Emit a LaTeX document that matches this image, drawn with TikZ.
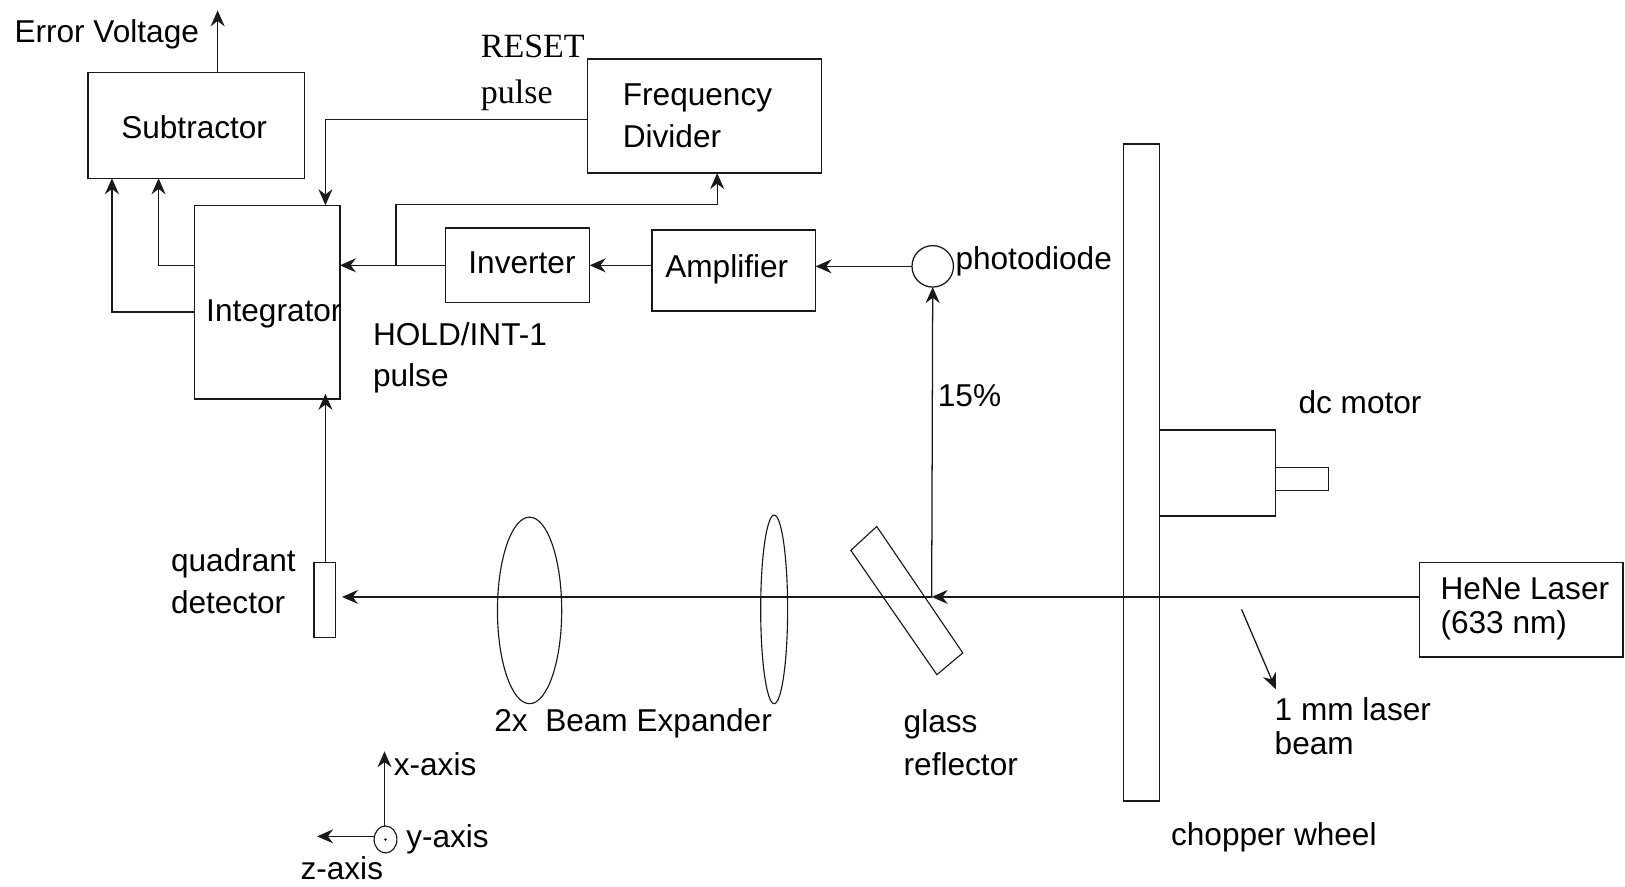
\documentclass[tikz,border=0pt]{standalone}
\usepackage{fontspec}
\setmainfont{Liberation Sans}
\newfontfamily\serifin{Liberation Serif}
\usetikzlibrary{arrows.meta,shapes.geometric}
\def\U{0.7773pt}
\newcommand{\bxnode}[5]{\node[boxs,minimum width={(#4-#2)*\U},minimum height={(#5-#3)*\U}] (#1) at ({(#2+#4)/2},{(#3+#5)/2}) {};}
\tikzset{
  boxs/.style={draw=black!90,line width=0.95pt,rectangle,inner sep=0pt,outer sep=0pt},
  lens/.style={draw=black!90,line width=0.85pt,ellipse,inner sep=0pt,outer sep=0pt},
  wire/.style={draw=black!90,line width=0.95pt},
  arr/.style={wire,-{Stealth[length=12pt,width=10.5pt,inset=4pt]}},
  txt/.style={anchor=base west,inner sep=0pt,outer sep=0pt,font=\fontsize{23.7}{27}\selectfont,text=black},
  stxt/.style={txt,font=\fontsize{25.5}{28}\selectfont\serifin}
}
\begin{document}
\begin{tikzpicture}[x=\U,y=-\U]
\useasboundingbox (0,0) rectangle (1568,855);
% boxes
\bxnode{sub}{85}{70}{294}{172}
\bxnode{div}{567}{57}{793}{167}
\bxnode{int}{188}{198}{328}{385}
\bxnode{inv}{430}{220}{569}{292}
\bxnode{amp}{629}{222}{787}{300}
\bxnode{wheel}{1084}{139}{1119}{773}
\bxnode{motor}{1119}{415}{1231}{498}
\bxnode{shaft}{1231}{451}{1282}{473}
\bxnode{laser}{1370}{543}{1566}{634}
\bxnode{det}{303}{543}{324}{615}
% optics
\node[lens,minimum width={62*\U},minimum height={180*\U}] (lensa) at (511,589) {};
\node[lens,minimum width={26*\U},minimum height={182*\U}] (lensb) at (747,588) {};
\draw[draw=black!90,line width=0.85pt] (846,508) -- (929,630) -- (904,651) -- (821,531) -- cycle;
\node[draw=black!90,line width=0.95pt,circle,minimum size={40*\U},inner sep=0pt,outer sep=0pt] (pd) at (900,257) {};
\node[lens,minimum width={22*\U},minimum height={26*\U}] (yaxis) at (372,810) {};
\node[circle,fill=black,minimum size=2pt,inner sep=0pt] (ydot) at (372,810) {};
% junctions and free ends
\coordinate (hit) at (899,576);
\coordinate (detin) at (330,576);
\coordinate (lasout) at (1370,576);
\coordinate (errtop) at (210,10);
\coordinate (rsta) at (567,115);
\coordinate (rstb) at (314,115);
\coordinate (rstc) at (314,198);
\coordinate (holdj) at (382,256);
\coordinate (holdk) at (382,197);
\coordinate (holdl) at (692,197);
\coordinate (holdm) at (692,167);
\coordinate (ia) at (188,256);
\coordinate (ib) at (153,256);
\coordinate (ic) at (153,172);
\coordinate (id) at (188,301);
\coordinate (ie) at (108,301);
\coordinate (if) at (108,172);
\coordinate (da) at (314,543);
\coordinate (db) at (314,380);
\coordinate (xtop) at (371,725);
\coordinate (xbot) at (371,798);
\coordinate (ztip) at (306,807);
\coordinate (zst) at (361,807);
\coordinate (ma) at (1198,588);
\coordinate (mb) at (1231,665);
% connectors
\draw[arr] (lasout) -- (hit);
\draw[arr] (hit) -- (detin);
\draw[arr] (hit) -- (pd.south);
\draw[arr] (pd.west) -- (amp.east |- pd.west);
\draw[arr] (amp.west |- inv.center) -- (inv.east);
\draw[arr] (inv.west) -- (int.east |- inv.west);
\draw[arr] (holdj) -- (holdk) -- (holdl) -- (holdm);
\draw[arr] (rsta) -- (rstb) -- (rstc);
\draw[arr] (ia) -- (ib) -- (ic);
\draw[arr] (id) -- (ie) -- (if);
\draw[arr] (errtop |- sub.north) -- (errtop);
\draw[arr] (da) -- (db);
\draw[arr] (xbot) -- (xtop);
\draw[arr] (zst) -- (ztip);
\draw[arr] (ma) -- (mb);
% labels
\node[txt] (t1) at (14,41) {Error Voltage};
\node[txt] (t2) at (117,134) {Subtractor};
\node[stxt] (t3) at (464,55) {RESET};
\node[stxt] (t4) at (464,99.5) {pulse};
\node[txt] (t5) at (601,102) {Frequency};
\node[txt] (t6) at (601,142) {Divider};
\node[txt] (t7) at (199,310) {Integrator};
\node[txt] (t8) at (452,264) {Inverter};
\node[txt] (t9) at (642,268) {Amplifier};
\node[txt] (t10) at (922,260) {photodiode};
\node[txt] (t11) at (360,333) {HOLD/INT-1};
\node[txt] (t12) at (360,373) {pulse};
\node[txt] (t13) at (905,392) {15\%};
\node[txt] (t14) at (1253,399) {dc motor};
\node[txt] (t15) at (165,551) {quadrant};
\node[txt] (t16) at (165,592) {detector};
\node[txt] (t17) at (477,706) {2x\ \ Beam Expander};
\node[txt] (t18) at (872,707) {glass};
\node[txt] (t19) at (872,748) {reflector};
\node[txt] (t20) at (380,748) {x-axis};
\node[txt] (t21) at (392,818) {y-axis};
\node[txt] (t22) at (290,849) {z-axis};
\node[txt] (t23) at (1130,816) {chopper wheel};
\node[txt] (t24) at (1230,695) {1 mm laser};
\node[txt] (t25) at (1230,728) {beam};
\node[txt] (t26) at (1390,578) {HeNe Laser};
\node[txt] (t27) at (1390,611) {(633 nm)};
\end{tikzpicture}
\end{document}
